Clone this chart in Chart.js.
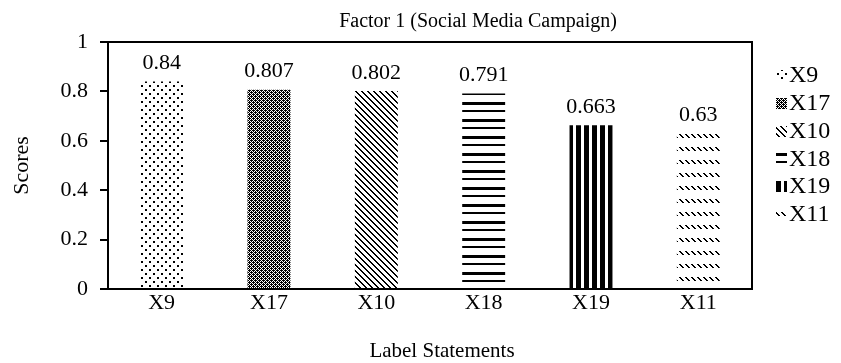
<!DOCTYPE html>
<html>
<head>
<meta charset="utf-8">
<script src="https://cdn.jsdelivr.net/npm/chart.js@4.4.1/dist/chart.umd.min.js"></script>
<style>
  html, body { margin: 0; padding: 0; background: #ffffff; }
  #wrap { width: 841px; height: 363px; }
</style>
</head>
<body>
<div id="wrap"><canvas id="c" width="841" height="363"></canvas></div>
<script>
// Loadings of the statements on Factor 1
const categories = ['X9', 'X17', 'X10', 'X18', 'X19', 'X11'];
const scores = [0.84, 0.807, 0.802, 0.791, 0.663, 0.63];
const yTicks = [0, 0.2, 0.4, 0.6, 0.8, 1];
const chartTitle = 'Factor 1 (Social Media Campaign)';
const xTitle = 'Label Statements';
const yTitle = 'Scores';

const SERIF = '"Liberation Serif", "Times New Roman", serif';

// Monochrome hatch fills, one per statement
function tile(w, h, paint) {
  const cv = document.createElement('canvas');
  cv.width = w; cv.height = h;
  const g = cv.getContext('2d');
  g.fillStyle = '#fff';
  g.fillRect(0, 0, w, h);
  g.fillStyle = '#000';
  paint(g, w, h);
  return document.getElementById('c').getContext('2d').createPattern(cv, 'repeat');
}
const fills = [
  // sparse staggered dots
  tile(8, 8, g => { g.fillRect(1, 1, 2, 2); g.fillRect(5, 5, 2, 2); }),
  // dense dark weave
  tile(4, 4, g => {
    const m = ['1011', '0101', '1110', '0101'];
    m.forEach((row, y) => [...row].forEach((b, x) => { if (b === '1') g.fillRect(x, y, 1, 1); }));
  }),
  // wide downward diagonal
  tile(6, 6, g => {
    for (let y = 0; y < 6; y++) for (let x = 0; x < 6; x++) {
      const d = ((x - y) % 6 + 6) % 6;
      if (d === 0 || d === 1) g.fillRect(x, y, 1, 1);
    }
  }),
  // horizontal lines, alternating heavy and light
  tile(8, 17, g => { g.fillRect(0, 0, 8, 3); g.fillRect(0, 8, 8, 2); }),
  // heavy vertical bars
  tile(8, 8, g => { g.fillRect(0, 0, 5, 8); }),
  // rows of short dashed diagonals
  tile(6, 13, g => { for (let i = 0; i < 4; i++) g.fillRect(1 + i, 4 + i, 2, 1); })
];

// Chart heading and the category-axis caption
const captions = {
  id: 'captions',
  afterDraw(chart) {
    const ctx = chart.ctx;
    ctx.save();
    ctx.fillStyle = '#000';
    ctx.textAlign = 'center';
    ctx.textBaseline = 'middle';
    ctx.font = '20px ' + SERIF;
    ctx.fillText(chartTitle, 478, 22);
    ctx.font = '21px ' + SERIF;
    ctx.fillText(xTitle, 442, 351);
    ctx.restore();
  }
};

// Value printed above every bar
const valueLabels = {
  id: 'valueLabels',
  afterDatasetsDraw(chart) {
    const ctx = chart.ctx;
    const meta = chart.getDatasetMeta(0);
    ctx.save();
    ctx.font = '22px ' + SERIF;
    ctx.fillStyle = '#000';
    ctx.textAlign = 'center';
    ctx.textBaseline = 'bottom';
    meta.data.forEach((bar, i) => {
      ctx.fillText(String(scores[i]), bar.x, bar.y - 7);
    });
    ctx.restore();
  }
};

// Top and right edges of the plot frame
const plotFrame = {
  id: 'plotFrame',
  afterDraw(chart) {
    const { ctx, chartArea: a } = chart;
    ctx.save();
    ctx.strokeStyle = '#000';
    ctx.lineWidth = 2;
    ctx.beginPath();
    ctx.moveTo(a.left, a.top);
    ctx.lineTo(a.right, a.top);
    ctx.lineTo(a.right, a.bottom);
    ctx.stroke();
    ctx.restore();
  }
};

// Key to the hatch fills, stacked at the right
const sideKey = {
  id: 'sideKey',
  afterDraw(chart) {
    const ctx = chart.ctx;
    const a = chart.chartArea;
    const x0 = a.right + 24;
    const y0 = 75;
    const step = 27.8;
    ctx.save();
    ctx.font = '24px ' + SERIF;
    ctx.fillStyle = '#000';
    ctx.textBaseline = 'middle';
    ctx.textAlign = 'left';
    categories.forEach((name, i) => {
      const y = y0 + i * step;
      ctx.fillStyle = fills[i];
      ctx.fillRect(x0, Math.round(y - 5), 11, 11);
      ctx.fillStyle = '#000';
      ctx.fillText(name, x0 + 13, y + 1);
    });
    ctx.restore();
  }
};

new Chart(document.getElementById('c'), {
  type: 'bar',
  data: {
    labels: categories,
    datasets: [{
      label: yTitle,
      data: scores,
      backgroundColor: fills,
      borderWidth: 0,
      barPercentage: 0.4,
      categoryPercentage: 1.0
    }]
  },
  options: {
    responsive: false,
    animation: false,
    devicePixelRatio: 1,
    layout: { padding: { left: 0, right: 89, top: 42, bottom: 0 } },
    plugins: {
      legend: { display: false },
      tooltip: { enabled: false },
      title: { display: false }
    },
    scales: {
      x: {
        grid: { display: false, drawTicks: false },
        border: { display: true, color: '#000', width: 2 },
        ticks: {
          color: '#000',
          padding: 1,
          font: { family: SERIF, size: 22 }
        },
        title: { display: false },
        afterFit(scale) { scale.height = 74; }
      },
      y: {
        min: 0,
        max: 1,
        afterBuildTicks(scale) { scale.ticks = yTicks.map(v => ({ value: v })); },
        grid: {
          drawOnChartArea: false,
          drawTicks: true,
          tickLength: 8,
          color: '#000',
          lineWidth: 2
        },
        border: { display: true, color: '#000', width: 2 },
        ticks: {
          color: '#000',
          padding: 12,
          font: { family: SERIF, size: 22 },
          callback: v => String(v)
        },
        title: {
          display: true,
          text: yTitle,
          color: '#000',
          font: { family: SERIF, size: 22 },
          padding: { top: 9, bottom: 0 }
        },
        afterFit(scale) { scale.width = 108; }
      }
    }
  },
  plugins: [valueLabels, plotFrame, sideKey, captions]
});
</script>
</body>
</html>
